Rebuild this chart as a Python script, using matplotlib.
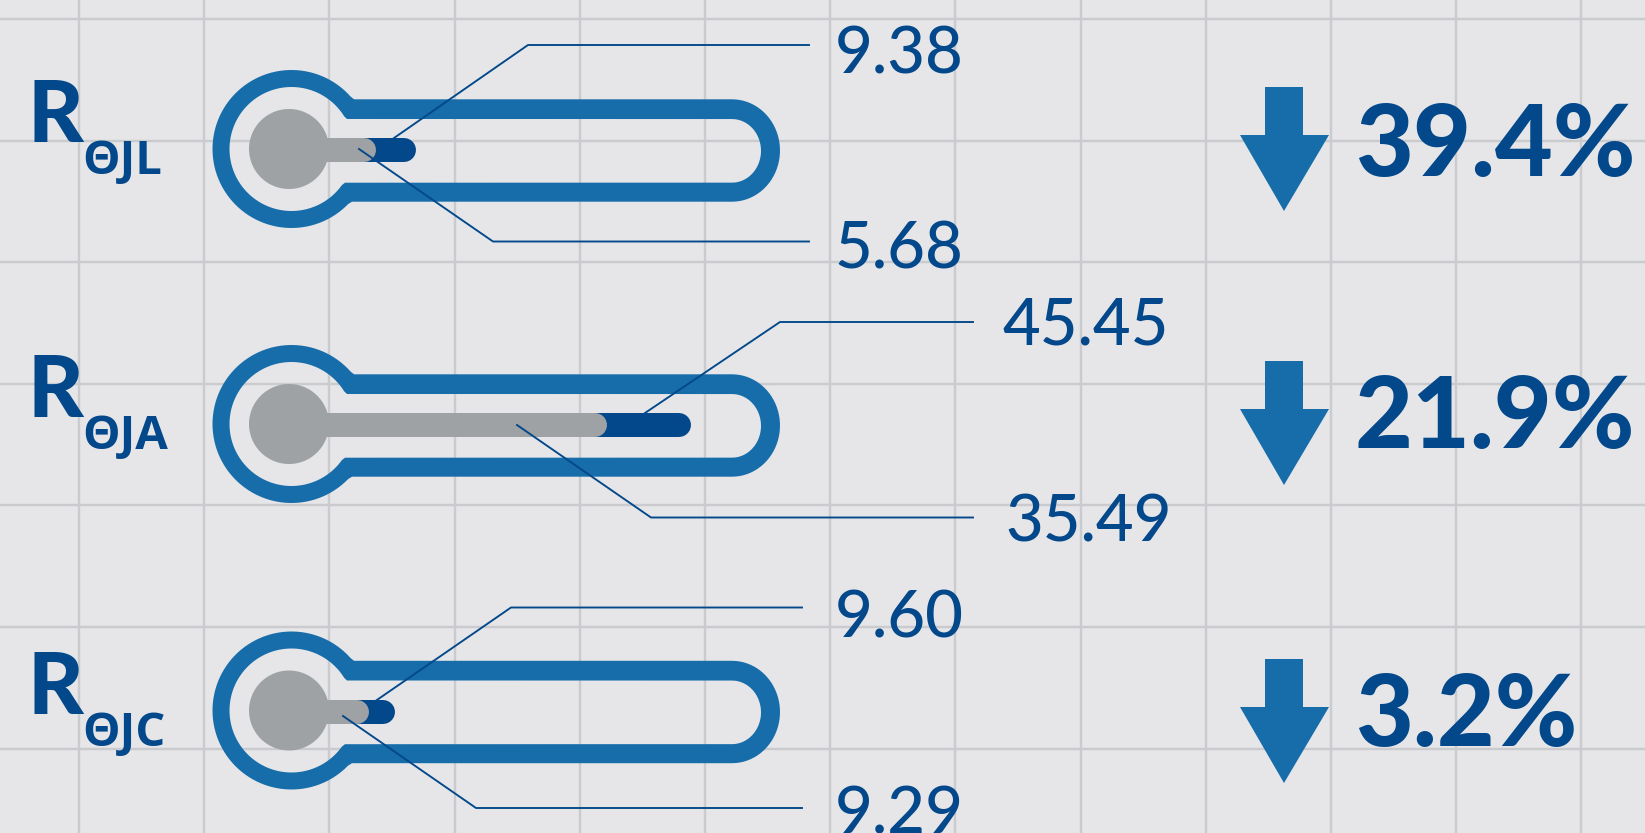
import numpy as np
import matplotlib
matplotlib.use('Agg')
import matplotlib.pyplot as plt
from matplotlib.patches import Circle, Polygon, PathPatch
from matplotlib.path import Path

# values
names = ["JL", "JA", "JC"]
before = [9.38, 45.45, 9.60]
after = [5.68, 35.49, 9.29]
drop = [39.4, 21.9, 3.2]
# the fills are not to scale with the labels, so their lengths are read off too
fill_before = [127, 402, 106]
fill_after = [84, 315, 77]

dark = "#03488A"
mid = "#166DAA"
grey = "#9EA2A5"
bg = "#E6E6E9"
gridc = "#C9CBCE"

PX = 0.72  # points per pixel at dpi 100

fig = plt.figure(figsize=(16.45, 8.33), dpi=100, facecolor=bg)
ax = fig.add_axes([0, 0, 1, 1], facecolor=bg)
ax.set_xlim(0, 1645)
ax.set_ylim(833, 0)

ax.set_xticks(79 + 125.2 * np.arange(13))
ax.set_yticks(19 + 121.6 * np.arange(7))
ax.tick_params(length=0, labelbottom=False, labelleft=False)
ax.grid(True, color=gridc, lw=2.4 * PX, zorder=0)
ax.set_axisbelow(True)
for s in ax.spines.values():
    s.set_visible(False)

row_dy = [0, 275, 561.5]
arrow_dy = [0, 274, 572]
label_dy = [0, 275, 572]
pct_dy = [-1, 271, 569]
text_x = [(835, 835), (1002, 1005), (835, 835)]
text_y = [(73.5, 268.5), (344, 542), (637, 834)]
up_leader = [
    ([394, 528, 809], [138, 45, 45]),
    ([645, 780, 973], [413, 322, 322]),
    ([374, 511, 802], [702, 607.5, 607.5]),
]
low_leader = [
    ([359, 493, 809], [149, 241.5, 241.5]),
    ([517, 651, 973], [425, 517.5, 517.5]),
    ([343, 476, 802], [716, 808, 808]),
]


def ring(dy, r, top, bottom, rx, ry, neck_top, neck_bottom):
    # one closed edge of the glass: bulb arc, neck, straight tube, round end
    cx, cy = 291.5, 149 + dy
    a0 = np.arctan2(top + dy - cy, neck_top - cx)
    a1 = np.arctan2(bottom + dy - cy, neck_bottom - cx)
    t = np.linspace(a1, a0 + 2 * np.pi, 90)[1:-1]
    e = np.linspace(-np.pi / 2, np.pi / 2, 40)
    mid_y = (top + bottom) / 2 + dy
    xs = [neck_bottom] + list(cx + r * np.cos(t)) + [neck_top] + list(732 + rx * np.cos(e))
    ys = [bottom + dy] + list(cy + r * np.sin(t)) + [top + dy] + list(mid_y + ry * np.sin(e))
    return np.column_stack([xs + [xs[0]], ys + [ys[0]]])


def glass(dy):
    outer = ring(dy, 79, 99.3, 201.7, 48, 51.2, 354, 352)
    inner = ring(dy, 62, 119, 182.7, 29, 31.8, 347, 345)[::-1]
    return Path.make_compound_path(Path(outer, closed=True), Path(inner, closed=True))


for i in range(3):
    dy = row_dy[i]
    ax.add_patch(PathPatch(glass(dy), facecolor=mid, edgecolor='none', zorder=2))

    cy = 150 + dy
    ax.plot([289, 289 + fill_before[i] - 12], [cy, cy], color=dark, lw=24 * PX,
            solid_capstyle='round', zorder=3)
    ax.plot([289, 289 + fill_after[i] + 3 - 12], [cy, cy], color=grey, lw=24 * PX,
            solid_capstyle='round', zorder=4)
    ax.add_patch(Circle((289, 149 + dy), 40, color=grey, lw=0, zorder=4))

    ax.plot(*up_leader[i], color=dark, lw=1.9 * PX, zorder=5)
    ax.plot(*low_leader[i], color=dark, lw=1.9 * PX, zorder=5)

    ax.text(text_x[i][0], text_y[i][0], "%.2f" % before[i], color=dark, fontsize=47,
            family='Lato', fontweight='medium', va='baseline', zorder=6, clip_on=True)
    ax.text(text_x[i][1], text_y[i][1], "%.2f" % after[i], color=dark, fontsize=47,
            family='Lato', fontweight='medium', va='baseline', zorder=6, clip_on=True)

    ax.text(28, 142 + label_dy[i], "R", color=dark, fontsize=62, fontweight='black',
            family='Lato', va='baseline', zorder=6)
    ax.text(82, 174 + label_dy[i], "Θ" + names[i], color=dark, fontsize=34, fontweight='bold',
            family='Open Sans', va='baseline', zorder=6)

    ay = arrow_dy[i]
    ax.add_patch(Polygon([(1265, 87 + ay), (1303, 87 + ay), (1303, 135 + ay), (1329, 135 + ay),
                          (1284, 211 + ay), (1240, 135 + ay), (1265, 135 + ay)],
                         closed=True, color=mid, lw=0, zorder=3))
    ax.text(1355, 177 + pct_dy[i], "%.1f%%" % drop[i], color=dark, fontsize=72,
            fontweight='black', family='Lato', va='baseline', zorder=6)

fig.savefig("out.png", dpi=100, facecolor=bg)
